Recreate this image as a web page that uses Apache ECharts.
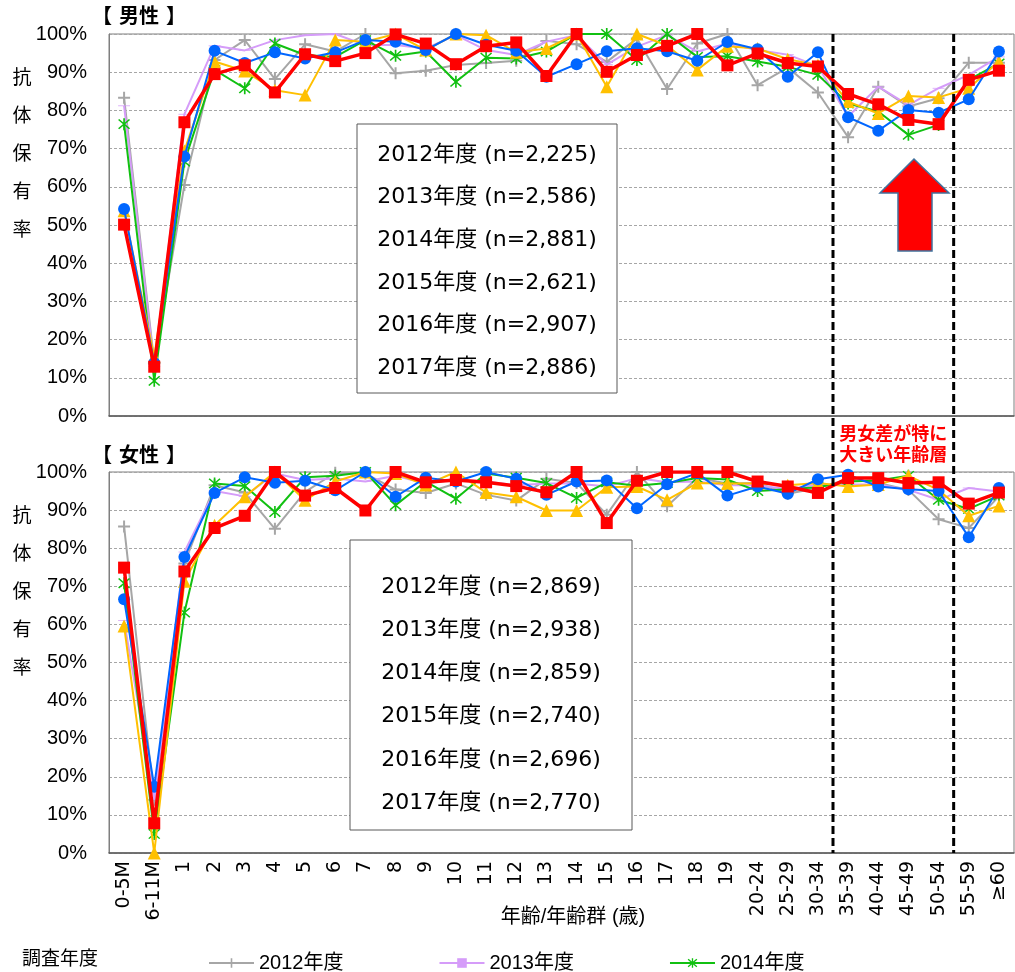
<!DOCTYPE html>
<html>
<head>
<meta charset="utf-8">
<script src="https://cdn.jsdelivr.net/npm/echarts@6/dist/echarts.min.js"></script>
<style>
  html, body { margin: 0; padding: 0; background: #fff; }
  #chart { width: 1015px; height: 972px; }
</style>
</head>
<body>
<div id="chart"></div>
<script>
// 年齢/年齢群
var categories = ['0-5M', '6-11M', '1', '2', '3', '4', '5', '6', '7', '8', '9', '10',
  '11', '12', '13', '14', '15', '16', '17', '18', '19', '20-24', '25-29', '30-34',
  '35-39', '40-44', '45-49', '50-54', '55-59', '≥60'];

var years = ['2012年度', '2013年度', '2014年度', '2015年度', '2016年度', '2017年度'];
var maleN = ['2,225', '2,586', '2,881', '2,621', '2,907', '2,886'];
var femaleN = ['2,869', '2,938', '2,859', '2,740', '2,696', '2,770'];

// 男性 抗体保有率 (%)
var male2012 = [83.3, 14, 60.5, 93.2, 98.4, 88.2, 97.3, 95.4, 100, 89.7, 90.4, 91.9, 92.4, 93, 98.2, 97.3, 92.7, 98.8, 85.6, 97.5, 100, 86.6, 91.2, 84.7, 73, 86.2, 81, 83.2, 92.5, 92.5];
var male2013 = [81.2, 13, 79, 96.9, 95.7, 98.4, 99.7, 100, 97.1, 97.1, 96.2, 99.7, 95.8, 94.5, 98, 99.7, 92, 96.7, 99.7, 95.4, 97.5, 95.8, 94.6, 91.6, 78.4, 86.2, 81.4, 85.8, 89.3, 94];
var male2014 = [76.4, 9.2, 66.6, 90.6, 85.8, 97.5, 94.5, 94, 98.4, 94.3, 95.4, 87.5, 93.8, 93.6, 95.4, 100, 100, 93.2, 100, 94, 94.2, 92.8, 91.4, 89.3, 81.8, 79.7, 73.6, 76.2, 88, 92.3];
var male2015 = [53.7, 15.5, 69.4, 92.8, 90.3, 85.3, 84, 98.4, 98, 100, 95.8, 100, 99.7, 95.2, 96.2, 100, 86.2, 100, 97, 90.6, 96.8, 96.2, 93.4, 91.8, 82.3, 79.2, 83.8, 83.4, 85.8, 92.8];
var male2016 = [54.2, 13.9, 67.9, 95.6, 92.4, 95.2, 93.6, 95.2, 98.4, 98, 95.8, 100, 97.2, 95.6, 88.8, 92.1, 95.5, 96.3, 95.5, 93, 97.9, 96, 88.8, 95.2, 78.2, 74.7, 80.1, 79.4, 82.9, 95.4];
var male2017 = [50.1, 12.9, 76.9, 89.5, 91.8, 84.7, 94.7, 92.9, 95, 99.9, 97.5, 92.1, 96.8, 97.8, 89, 100, 90.1, 94.5, 96.9, 100, 91.8, 94.9, 92.4, 91.5, 84.3, 81.6, 77.5, 76.4, 88, 90.4];

// 女性 抗体保有率 (%)
var female2012 = [85.7, 14, 76, 96.5, 94.6, 85.1, 94.8, 99.8, 99.6, 95.4, 94.5, 97, 94, 92.5, 98.2, 97.1, 88.8, 100, 91, 98.4, 97, 97.1, 94.3, 95.8, 98.1, 97.1, 95.3, 87.6, 85.3, 93.6];
var female2013 = [61, 14, 79, 95, 93.6, 99.6, 97.9, 98.3, 97.5, 99, 97, 98, 97.5, 96.5, 97, 97, 96.2, 98.4, 97.3, 97.5, 96.5, 96.5, 95.5, 96.7, 96.7, 96.7, 95.3, 92.7, 95.8, 94.9];
var female2014 = [70.8, 5, 63.1, 97, 96.3, 89.5, 98.6, 99, 100, 91.3, 97.5, 93, 99.6, 98.5, 97.1, 93.2, 97.3, 96.4, 97.1, 98.4, 98, 95, 95.5, 96, 97.5, 97.8, 99, 92.7, 90.3, 93.8];
var female2015 = [59.6, 0, 71.3, 86, 93.5, 100, 92.6, 97.5, 100, 99.6, 96.6, 100, 94.6, 93.5, 89.9, 89.9, 96, 96.2, 92.7, 97.1, 97, 97, 96.5, 97.1, 96.2, 96.7, 99, 95.3, 88.5, 91.1];
var female2016 = [66.6, 17.4, 77.7, 94.5, 98.6, 97.2, 97.7, 95.2, 100, 93.5, 98.5, 97.5, 100, 98.2, 94, 97.5, 97.8, 90.5, 96.8, 99.7, 93.8, 96.2, 94.3, 98.1, 99.3, 96.2, 95.5, 95, 82.9, 95.8];
var female2017 = [74.9, 7.8, 73.9, 85.3, 88.5, 100, 93.8, 95.8, 89.9, 100, 97.3, 97.9, 97.3, 96.3, 94.7, 100, 86.6, 97.7, 100, 100, 100, 97.5, 96.2, 94.5, 98.4, 98.4, 97.1, 97.3, 91.7, 94.6];

var maleSeries = [male2012, male2013, male2014, male2015, male2016, male2017];
var femaleSeries = [female2012, female2013, female2014, female2015, female2016, female2017];

var plusPath = 'path://M5,0h2v5h5v2h-5v5h-2v-5h-5v-2h5z';
var starPath = 'path://M-0.6,-5L0.6,-5L0.6,5L-0.6,5Z M-4.3,-3.5L-3.5,-4.3L4.3,3.5L3.5,4.3Z M3.5,-4.3L4.3,-3.5L-3.5,4.3L-4.3,3.5Z';
var dashPath = 'path://M0,0h4v1h-4z';

var styles = [
  { color: '#A6A6A6', symbol: plusPath, size: 12, width: 2 },
  { color: '#D59CF9', symbol: dashPath, size: [12, 3], width: 2, keep: true },
  { color: '#11C011', symbol: starPath, size: 12, width: 2 },
  { color: '#FFC000', symbol: 'triangle', size: 13, width: 2 },
  { color: '#0066FF', symbol: 'circle', size: 12, width: 2 },
  { color: '#FF0000', symbol: 'rect', size: 12, width: 3.5 }
];

var labelFont = "'Liberation Sans Narrow', 'Liberation Sans', 'Noto Sans CJK JP', sans-serif";
var boxFont = "'DejaVu Sans', 'Noto Sans CJK JP', sans-serif";

function makeSeries(list, idx) {
  return list.map(function (vals, i) {
    var s = styles[i];
    return {
      name: years[i],
      type: 'line',
      xAxisIndex: idx,
      yAxisIndex: idx,
      data: vals,
      symbol: s.symbol,
      symbolSize: s.size,
      symbolKeepAspect: !!s.keep,
      showAllSymbol: true,
      lineStyle: { color: s.color, width: s.width },
      itemStyle: { color: s.color },
      emphasis: { disabled: true },
      z: 2 + i
    };
  });
}

function yAxis(idx) {
  return {
    type: 'value',
    gridIndex: idx,
    min: 0,
    max: 100,
    interval: 10,
    axisLine: { show: true, lineStyle: { color: '#7F7F7F' } },
    axisTick: { show: false },
    splitLine: { lineStyle: { color: '#A6A6A6', type: [3, 2] } },
    axisLabel: { formatter: '{value}%', color: '#000', fontSize: 20, fontFamily: labelFont, margin: 22 }
  };
}

function xAxis(idx, showLabel) {
  return {
    type: 'category',
    gridIndex: idx,
    data: categories,
    boundaryGap: true,
    axisLine: { lineStyle: { color: '#595959', width: 1.5 } },
    axisTick: { show: false },
    axisLabel: {
      show: showLabel, interval: 0, rotate: 90, color: '#000',
      fontSize: 19, fontFamily: boxFont, margin: 8
    }
  };
}

function nBox(x, y, w, h, nList, y0, step) {
  var els = [{
    type: 'rect', shape: { x: x, y: y, width: w, height: h },
    style: { fill: '#fff', stroke: '#595959', lineWidth: 1 }, z: 100
  }];
  nList.forEach(function (n, i) {
    els.push({
      type: 'text', x: x + w / 2, y: y0 + step * i, z: 101,
      style: {
        text: years[i] + ' (n=' + n + ')', fill: '#000',
        font: '22px ' + boxFont, align: 'center', verticalAlign: 'middle'
      }
    });
  });
  return els;
}

function vText(x, y) {
  return {
    type: 'text', x: x, y: y, z: 100,
    style: {
      text: '抗\n体\n保\n有\n率', fill: '#000', font: '19px ' + labelFont,
      lineHeight: 38, align: 'center', verticalAlign: 'top'
    }
  };
}

var chart = echarts.init(document.getElementById('chart'));

var option = {
  animation: false,
  backgroundColor: '#fff',
  grid: [
    { left: 109, right: 1, top: 34, height: 382, show: true, borderColor: '#7F7F7F', borderWidth: 1 },
    { left: 109, right: 1, top: 472, height: 381, show: true, borderColor: '#7F7F7F', borderWidth: 1 }
  ],
  xAxis: [xAxis(0, false), xAxis(1, true)],
  yAxis: [yAxis(0), yAxis(1)],
  legend: {
    data: years,
    left: 203,
    top: 948,
    width: 690,
    itemWidth: 45,
    itemHeight: 12,
    itemGap: 95,
    textStyle: { color: '#000', fontSize: 20, fontFamily: labelFont }
  },
  series: makeSeries(maleSeries, 0).concat(makeSeries(femaleSeries, 1))
};
chart.setOption(option);

// 区切り線の位置は軸から求める
var xa = chart.convertToPixel({ xAxisIndex: 0 }, 23);
var xb = chart.convertToPixel({ xAxisIndex: 0 }, 24);
var xc = chart.convertToPixel({ xAxisIndex: 0 }, 27);
var xd = chart.convertToPixel({ xAxisIndex: 0 }, 28);
var sep1 = (xa + xb) / 2;
var sep2 = (xc + xd) / 2;

var graphics = [
  { type: 'text', x: 92, y: 18, style: { text: '【 男性 】', fill: '#000', font: 'bold 20px ' + boxFont, verticalAlign: 'middle' } },
  { type: 'text', x: 92, y: 457, style: { text: '【 女性 】', fill: '#000', font: 'bold 20px ' + boxFont, verticalAlign: 'middle' } },
  vText(22, 60),
  vText(22, 498),
  { type: 'text', x: 573, y: 917, style: { text: '年齢/年齢群 (歳)', fill: '#000', font: '20px ' + labelFont, align: 'center', verticalAlign: 'middle' } },
  { type: 'text', x: 22, y: 960, style: { text: '調査年度', fill: '#000', font: '19px ' + labelFont, verticalAlign: 'middle' } },
  { type: 'line', shape: { x1: sep1, y1: 34, x2: sep1, y2: 853 }, style: { stroke: '#000', lineWidth: 3, lineDash: [8, 4] }, z: 50 },
  { type: 'line', shape: { x1: sep2, y1: 34, x2: sep2, y2: 853 }, style: { stroke: '#000', lineWidth: 3, lineDash: [8, 4] }, z: 50 },
  { type: 'text', x: (sep1 + sep2) / 2, y: 446, z: 60, style: { text: '男女差が特に\n大きい年齢層', fill: '#FF0000', font: 'bold 18px ' + boxFont, lineHeight: 21, align: 'center', verticalAlign: 'middle' } },
  {
    type: 'polygon', z: 60,
    shape: { points: [[914, 159], [949, 193], [932, 193], [932, 251], [898, 251], [898, 193], [880, 193]] },
    style: { fill: '#FF0000', stroke: '#41719C', lineWidth: 1.5 }
  }
].concat(nBox(357, 124, 260, 269, maleN, 155, 42.6))
 .concat(nBox(350, 540, 282, 290, femaleN, 587, 43.2));

chart.setOption({ graphic: graphics });
</script>
</body>
</html>
